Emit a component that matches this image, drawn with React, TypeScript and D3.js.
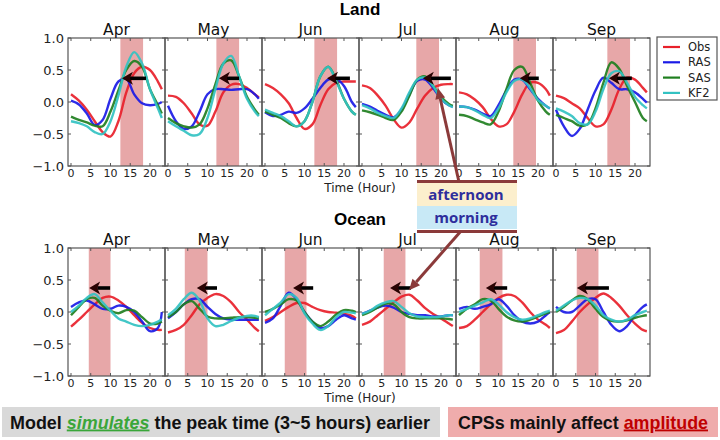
import React from "react";
import * as d3 from "d3";

const MONTHS = ["Apr", "May", "Jun", "Jul", "Aug", "Sep"];
const HOURS = [0, 2, 4, 6, 8, 10, 12, 14, 16, 18, 20, 22, 23];
const SERIES = ["Obs", "RAS", "SAS", "KF2"];
const X_TICKS = [0, 5, 10, 15, 20];
const Y_TICKS = [1.0, 0.5, 0.0, -0.5, -1.0];
const Y_TICK_LABELS = ["1.0", "0.5", "0.0", "\u22120.5", "\u22121.0"];

// Land diurnal anomalies (rows = months Apr..Sep, columns = HOURS)
const landObs = [
  [0.12, 0.02, -0.12, -0.3, -0.47, -0.54, -0.3, 0.15, 0.45, 0.55, 0.5, 0.32, 0.2],
  [0.1, 0.08, -0.02, -0.18, -0.35, -0.37, -0.15, 0.15, 0.27, 0.28, 0.22, 0.12, 0.07],
  [0.28, 0.22, 0.12, -0.02, -0.25, -0.42, -0.35, -0.05, 0.2, 0.3, 0.32, 0.32, 0.32],
  [0.26, 0.22, 0.1, -0.06, -0.27, -0.4, -0.32, -0.1, 0.1, 0.22, 0.27, 0.28, 0.28],
  [0.15, 0.12, 0.04, -0.08, -0.26, -0.38, -0.35, -0.15, 0.12, 0.3, 0.3, 0.2, 0.1],
  [0.1, 0.06, -0.02, -0.1, -0.25, -0.38, -0.35, -0.12, 0.2, 0.38, 0.35, 0.22, 0.15],
];
const landRAS = [
  [0.02, -0.04, -0.18, -0.36, -0.28, 0.05, 0.32, 0.36, 0.12, -0.02, -0.05, -0.03, 0.0],
  [-0.06, -0.3, -0.42, -0.38, -0.15, 0.12, 0.2, 0.2, 0.19, 0.2, 0.2, 0.12, 0.05],
  [-0.16, -0.22, -0.2, -0.15, -0.17, -0.1, 0.05, 0.22, 0.35, 0.36, 0.25, 0.0, -0.08],
  [-0.03, -0.07, -0.14, -0.2, -0.24, -0.12, 0.12, 0.33, 0.35, 0.22, 0.05, -0.05, -0.07],
  [-0.07, -0.08, -0.12, -0.18, -0.22, -0.05, 0.18, 0.35, 0.35, 0.2, 0.05, -0.06, -0.1],
  [-0.12, -0.38, -0.53, -0.42, -0.12, 0.18, 0.38, 0.3, 0.2, 0.2, 0.15, 0.05, -0.01],
];
const landSAS = [
  [-0.23, -0.28, -0.32, -0.37, -0.38, -0.15, 0.18, 0.5, 0.64, 0.55, 0.2, -0.05, -0.18],
  [-0.25, -0.33, -0.38, -0.4, -0.35, -0.1, 0.28, 0.6, 0.65, 0.4, 0.08, -0.12, -0.2],
  [-0.15, -0.2, -0.25, -0.33, -0.38, -0.3, 0.0, 0.4, 0.55, 0.35, 0.05, -0.15, -0.2],
  [-0.13, -0.16, -0.2, -0.25, -0.28, -0.15, 0.1, 0.35, 0.4, 0.25, 0.08, -0.03, -0.06],
  [-0.2, -0.22, -0.27, -0.32, -0.35, -0.15, 0.2, 0.5, 0.55, 0.3, 0.02, -0.15, -0.2],
  [-0.2, -0.25, -0.3, -0.37, -0.35, -0.1, 0.3, 0.62, 0.52, 0.25, 0.0, -0.25, -0.3],
];
const landKF2 = [
  [-0.3, -0.33, -0.38, -0.47, -0.5, -0.3, 0.1, 0.55, 0.78, 0.6, 0.2, -0.1, -0.25],
  [-0.3, -0.38, -0.45, -0.52, -0.5, -0.25, 0.2, 0.6, 0.72, 0.4, 0.05, -0.15, -0.22],
  [-0.12, -0.17, -0.22, -0.3, -0.38, -0.3, 0.0, 0.4, 0.55, 0.33, 0.05, -0.15, -0.2],
  [-0.05, -0.1, -0.17, -0.22, -0.25, -0.1, 0.15, 0.35, 0.38, 0.25, 0.05, -0.05, -0.08],
  [-0.07, -0.08, -0.13, -0.2, -0.25, -0.1, 0.15, 0.33, 0.35, 0.22, 0.03, -0.06, -0.1],
  [-0.1, -0.15, -0.22, -0.33, -0.35, -0.15, 0.2, 0.45, 0.48, 0.3, 0.08, -0.05, -0.1],
];

// Ocean diurnal anomalies
const oceanObs = [
  [-0.23, -0.12, 0.0, 0.12, 0.22, 0.24, 0.18, 0.08, -0.05, -0.17, -0.25, -0.28, -0.28],
  [-0.32, -0.28, -0.2, -0.05, 0.12, 0.22, 0.28, 0.25, 0.15, 0.0, -0.12, -0.25, -0.3],
  [-0.14, -0.08, 0.0, 0.08, 0.14, 0.14, 0.08, 0.03, 0.0, -0.01, -0.03, -0.06, -0.1],
  [-0.2, -0.15, -0.05, 0.05, 0.15, 0.24, 0.27, 0.18, 0.06, -0.03, -0.1, -0.18, -0.22],
  [-0.25, -0.22, -0.12, 0.0, 0.12, 0.22, 0.27, 0.25, 0.15, 0.0, -0.12, -0.2, -0.25],
  [-0.33, -0.28, -0.15, 0.0, 0.12, 0.22, 0.29, 0.22, 0.1, -0.05, -0.18, -0.28, -0.3],
];
const oceanRAS = [
  [0.08, 0.15, 0.18, 0.12, 0.05, 0.05, 0.1, 0.08, 0.0, -0.15, -0.3, -0.25, 0.0],
  [-0.1, 0.0, 0.12, 0.2, 0.2, 0.08, -0.03, -0.1, -0.12, -0.12, -0.12, -0.12, -0.12],
  [-0.17, -0.1, 0.1, 0.3, 0.2, 0.0, -0.15, -0.25, -0.22, -0.12, -0.05, -0.1, -0.12],
  [-0.03, 0.02, 0.07, 0.1, 0.07, 0.0, -0.03, -0.05, -0.05, -0.07, -0.07, -0.05, -0.05],
  [0.05, 0.08, 0.05, 0.08, 0.12, 0.2, 0.1, -0.05, -0.15, -0.18, -0.15, -0.05, 0.0],
  [0.08, 0.0, 0.0, 0.1, 0.2, 0.2, 0.0, -0.2, -0.3, -0.22, -0.05, 0.08, 0.12],
];
const oceanSAS = [
  [-0.05, 0.08, 0.2, 0.22, 0.1, 0.02, -0.02, 0.03, 0.02, -0.08, -0.18, -0.18, -0.15],
  [-0.08, 0.0, 0.12, 0.17, 0.05, -0.07, -0.1, -0.1, -0.09, -0.08, -0.08, -0.09, -0.1],
  [0.0, 0.05, 0.12, 0.2, 0.18, 0.0, -0.15, -0.22, -0.15, -0.04, 0.03, 0.02, 0.0],
  [-0.05, 0.0, 0.07, 0.13, 0.12, 0.0, -0.08, -0.1, -0.1, -0.1, -0.1, -0.11, -0.12],
  [-0.05, 0.05, 0.12, 0.2, 0.18, 0.05, -0.07, -0.13, -0.15, -0.12, -0.07, -0.02, 0.0],
  [0.0, 0.08, 0.18, 0.25, 0.2, 0.05, -0.08, -0.14, -0.15, -0.13, -0.09, -0.06, -0.05],
];
const oceanKF2 = [
  [0.0, 0.1, 0.22, 0.28, 0.15, 0.02, -0.1, -0.15, -0.2, -0.22, -0.2, -0.15, -0.12],
  [-0.05, 0.05, 0.2, 0.3, 0.18, -0.1, -0.22, -0.2, -0.14, -0.09, -0.06, -0.06, -0.08],
  [-0.05, 0.05, 0.15, 0.28, 0.22, -0.02, -0.18, -0.28, -0.22, -0.08, 0.0, -0.01, -0.02],
  [-0.03, 0.02, 0.1, 0.15, 0.17, 0.08, -0.02, -0.07, -0.08, -0.08, -0.07, -0.05, -0.05],
  [0.0, 0.05, 0.1, 0.15, 0.2, 0.12, 0.0, -0.08, -0.12, -0.1, -0.05, 0.0, 0.02],
  [0.02, 0.1, 0.18, 0.22, 0.2, 0.1, -0.05, -0.12, -0.15, -0.12, -0.05, 0.0, 0.02],
];

// Shaded peak windows (hours)
const landShadeStart = [12.5, 12.25, 12.5, 13.75, 13.75, 13.0];
const landShadeEnd = [18.25, 18.0, 18.25, 19.5, 19.5, 18.75];
const oceanShadeStart = [4.5, 4.25, 5.0, 5.5, 5.25, 5.25];
const oceanShadeEnd = [10.0, 10.0, 10.5, 11.0, 11.0, 10.75];

// Peak-shift arrows: tail hour, head hour, value
const landArrowTail = [19.0, 18.0, 21.5, 22.5, 20.2, 19.2];
const landArrowHead = [12.9, 12.9, 15.7, 15.4, 15.4, 13.4];
const landArrowValue = 0.37;
const oceanArrowTail = [9.9, 12.4, 12.2, 12.4, 12.2, 13.4];
const oceanArrowHead = [4.6, 7.3, 7.1, 7.1, 6.8, 5.3];
const oceanArrowValue = 0.375;

const COLORS: Record<string, string> = {
  Obs: "#e8202a",
  RAS: "#1a1ae6",
  SAS: "#1f7f1f",
  KF2: "#33c2c2",
};

const PANEL_LEFT = 68;
const PANEL_W = 97;
const LAND_TOP = 38;
const LAND_BOTTOM = 166;
const OCEAN_TOP = 248;
const OCEAN_BOTTOM = 376;
const FONT = "DejaVu Sans, sans-serif";
const BOLD_FONT = "Liberation Sans, Arial, sans-serif";

type Region = {
  key: string;
  top: number;
  bottom: number;
  data: number[][][];
  shadeStart: number[];
  shadeEnd: number[];
  arrowTail: number[];
  arrowHead: number[];
  arrowValue: number;
};

const REGIONS: Region[] = [
  {
    key: "land",
    top: LAND_TOP,
    bottom: LAND_BOTTOM,
    data: [landObs, landRAS, landSAS, landKF2],
    shadeStart: landShadeStart,
    shadeEnd: landShadeEnd,
    arrowTail: landArrowTail,
    arrowHead: landArrowHead,
    arrowValue: landArrowValue,
  },
  {
    key: "ocean",
    top: OCEAN_TOP,
    bottom: OCEAN_BOTTOM,
    data: [oceanObs, oceanRAS, oceanSAS, oceanKF2],
    shadeStart: oceanShadeStart,
    shadeEnd: oceanShadeEnd,
    arrowTail: oceanArrowTail,
    arrowHead: oceanArrowHead,
    arrowValue: oceanArrowValue,
  },
];

function xScaleFor(m: number) {
  const left = PANEL_LEFT + m * PANEL_W;
  return d3.scaleLinear().domain([-0.76, 23.8]).range([left, left + PANEL_W]);
}

function PeakArrow({ x1, x2, y }: { x1: number; x2: number; y: number }) {
  const hl = 10;
  const hw = 6.5;
  return (
    <g>
      <line x1={x1} y1={y} x2={x2 + hl - 2} y2={y} stroke="#000" strokeWidth={3.6} />
      <path
        d={`M${x2},${y} L${x2 + hl + 1},${y - hw} L${x2 + hl - 2},${y} L${x2 + hl + 1},${y + hw} Z`}
        fill="#2a0303"
      />
    </g>
  );
}

function AnnotArrow({ x1, y1, x2, y2 }: { x1: number; y1: number; x2: number; y2: number }) {
  const ang = Math.atan2(y2 - y1, x2 - x1);
  const hl = 11;
  const hw = 5;
  const bx = x2 - hl * Math.cos(ang);
  const by = y2 - hl * Math.sin(ang);
  const px = -Math.sin(ang) * hw;
  const py = Math.cos(ang) * hw;
  return (
    <g>
      <line x1={x1} y1={y1} x2={bx} y2={by} stroke="#8b3a3a" strokeWidth={3} />
      <path d={`M${x2},${y2} L${bx + px},${by + py} L${bx - px},${by - py} Z`} fill="#8b3a3a" />
    </g>
  );
}

export default function App() {
  const yLand = d3.scaleLinear().domain([-1, 1]).range([LAND_BOTTOM, LAND_TOP]);
  const yOcean = d3.scaleLinear().domain([-1, 1]).range([OCEAN_BOTTOM, OCEAN_TOP]);
  return (
    <svg
      width={720}
      height={440}
      style={{ position: "absolute", left: 0, top: 0, background: "#fff" }}
    >
      <rect x={0} y={0} width={720} height={440} fill="#fff" />
      {REGIONS.map((r) => {
        const y = d3.scaleLinear().domain([-1, 1]).range([r.bottom, r.top]);
        return (
          <g key={r.key}>
            {MONTHS.map((mon, m) => {
              const x = xScaleFor(m);
              const [l, rr] = x.range();
              const line = d3
                .line<number>()
                .x((_, i) => x(HOURS[i]))
                .y((v) => y(v))
                .curve(d3.curveCatmullRom.alpha(0.5));
              return (
                <g key={mon}>
                  <rect
                    x={x(r.shadeStart[m])}
                    y={r.top}
                    width={x(r.shadeEnd[m]) - x(r.shadeStart[m])}
                    height={r.bottom - r.top}
                    fill="#e7a7a8"
                  />
                  {SERIES.map((s, si) => (
                    <path
                      key={s}
                      d={line(r.data[si][m]) || ""}
                      fill="none"
                      stroke={COLORS[s]}
                      strokeWidth={2.4}
                      strokeOpacity={0.92}
                    />
                  ))}
                  <PeakArrow
                    x1={x(r.arrowTail[m])}
                    x2={x(r.arrowHead[m])}
                    y={y(r.arrowValue)}
                  />
                  <rect
                    x={l}
                    y={r.top}
                    width={rr - l}
                    height={r.bottom - r.top}
                    fill="none"
                    stroke="#555"
                    strokeWidth={1.2}
                  />
                  {X_TICKS.map((t) => (
                    <g key={t}>
                      <line x1={x(t)} x2={x(t)} y1={r.bottom} y2={r.bottom - 3} stroke="#555" />
                      <line x1={x(t)} x2={x(t)} y1={r.top} y2={r.top + 3} stroke="#555" />
                      <text
                        x={x(t)}
                        y={r.bottom + 11}
                        fontSize={11}
                        fontFamily={FONT}
                        textAnchor="middle"
                        fill="#222"
                      >
                        {t}
                      </text>
                    </g>
                  ))}
                  {Y_TICKS.map((t) => (
                    <g key={t}>
                      <line x1={l} x2={l + 3} y1={y(t)} y2={y(t)} stroke="#555" />
                      <line x1={rr} x2={rr - 3} y1={y(t)} y2={y(t)} stroke="#555" />
                    </g>
                  ))}
                  <text
                    x={(l + rr) / 2}
                    y={r.top - 3}
                    fontSize={15.5}
                    fontFamily={FONT}
                    textAnchor="middle"
                    fill="#111"
                  >
                    {mon}
                  </text>
                </g>
              );
            })}
            {Y_TICKS.map((t, i) => (
              <text
                key={t}
                x={64}
                y={y(t)}
                dy="0.36em"
                fontSize={13}
                fontFamily={FONT}
                textAnchor="end"
                fill="#222"
              >
                {Y_TICK_LABELS[i]}
              </text>
            ))}
            <text
              x={360}
              y={r.bottom + 26}
              fontSize={12}
              fontFamily={FONT}
              textAnchor="middle"
              fill="#222"
            >
              Time (Hour)
            </text>
          </g>
        );
      })}

      <text x={360} y={15} fontSize={17} fontWeight="bold" fontFamily={BOLD_FONT} textAnchor="middle">
        Land
      </text>
      <text x={360} y={225} fontSize={17} fontWeight="bold" fontFamily={BOLD_FONT} textAnchor="middle">
        Ocean
      </text>

      {/* Legend */}
      <g>
        <rect x={657} y={37} width={60} height={63} fill="#fff" stroke="#555" strokeWidth={1.2} />
        {SERIES.map((s, i) => (
          <g key={s}>
            <line x1={663} x2={680} y1={47 + i * 15.3} y2={47 + i * 15.3} stroke={COLORS[s]} strokeWidth={2.2} />
            <text x={688} y={47 + i * 15.3} dy="0.36em" fontSize={11.5} fontFamily={FONT} fill="#222">
              {s}
            </text>
          </g>
        ))}
      </g>

      {/* Annotation box */}
      <g>
        <rect x={417} y={183} width={100} height={23} fill="#fcefcd" />
        <rect x={417} y={206} width={100} height={23} fill="#c8e9f6" />
        <text x={466} y={195} dy="0.36em" fontSize={15} fontWeight="bold" fontFamily="Open Sans, DejaVu Sans, sans-serif" textAnchor="middle" fill="#2e2e9c">
          afternoon
        </text>
        <text x={466} y={218} dy="0.36em" fontSize={15} fontWeight="bold" fontFamily="Open Sans, DejaVu Sans, sans-serif" textAnchor="middle" fill="#2e2e9c">
          morning
        </text>
        <line x1={417} x2={517} y1={181.5} y2={181.5} stroke="#8b3a3a" strokeWidth={3} />
        <line x1={417} x2={517} y1={231.5} y2={231.5} stroke="#8b3a3a" strokeWidth={3} />
        <AnnotArrow x1={459} y1={182} x2={xScaleFor(3)(19.2)} y2={yLand(0.22)} />
        <AnnotArrow x1={461} y1={231} x2={xScaleFor(3)(11.9)} y2={yOcean(0.34)} />
      </g>

      {/* Bottom messages */}
      <rect x={2} y={407} width={438} height={30} fill="#d9d9d9" />
      <text
        x={10}
        y={428.5}
        fontSize={18.5}
        fontWeight="bold"
        fontFamily={BOLD_FONT}
        fill="#111"
        textLength={420}
        lengthAdjust="spacingAndGlyphs"
      >
        Model{" "}
        <tspan fill="#3aa63a" fontStyle="italic" style={{ textDecoration: "underline" }}>
          simulates
        </tspan>{" "}
        the peak time (3~5 hours) earlier
      </text>
      <rect x={448} y={407} width={270} height={30} fill="#efacac" />
      <text
        x={458}
        y={428.5}
        fontSize={18.5}
        fontWeight="bold"
        fontFamily={BOLD_FONT}
        fill="#111"
        textLength={250}
        lengthAdjust="spacingAndGlyphs"
      >
        CPSs mainly affect{" "}
        <tspan fill="#c00000" style={{ textDecoration: "underline" }}>
          amplitude
        </tspan>
      </text>
    </svg>
  );
}
